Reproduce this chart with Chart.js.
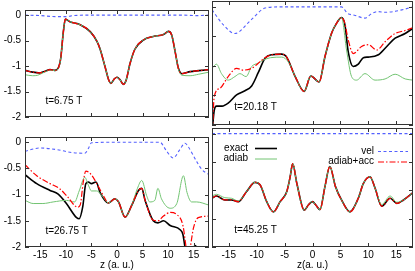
<!DOCTYPE html>
<html>
<head>
<meta charset="utf-8">
<script src="https://cdn.jsdelivr.net/npm/chart.js@4.4.0/dist/chart.umd.min.js"></script>
<style>
  body { margin: 0; background: #fff; }
  #wrap { position: relative; width: 415px; height: 271px; overflow: hidden; }
  #wrap canvas { position: absolute; }
</style>
</head>
<body>
<div id="wrap">
  <canvas id="p1" width="212" height="127" style="left:0;top:0"></canvas>
  <canvas id="p2" width="205" height="127" style="left:210px;top:0"></canvas>
  <canvas id="p3" width="212" height="144" style="left:0;top:127px"></canvas>
  <canvas id="p4" width="205" height="144" style="left:210px;top:127px"></canvas>
</div>
<script>
// ---- data ----
const zTicks = [-15, -10, -5, 0, 5, 10, 15];
const vTicks = [0, -0.5, -1, -1.5, -2];
const seriesNames = ['exact', 'adiab', 'vel', 'adiab+acc'];
const timeLabels = ['t=6.75 T', 't=20.18 T', 't=26.75 T', 't=45.25 T'];
const axisTitles = ['z (a. u.)', 'z(a. u.)'];

// panel 1, t=6.75 T
const p1ExactZ = [-18, -16.5, -15.1, -14, -13.1, -12.2, -11.5, -11, -10.5, -10.1, -9.2, -7.2, -5.2, -3.9, -3.3, -2.35, -1.6, -1.2, -0.5, 0, 0.6, 1.24, 1.75, 2.55, 3.5, 5.15, 7.1, 9.1, 10.06, 10.7, 11.4, 12, 12.7, 14.3, 16, 18];
const p1ExactV = [-1.085, -1.12, -1.135, -1.1, -1.07, -1.085, -1.04, -0.84, -0.33, -0.08, -0.13, -0.19, -0.33, -0.52, -0.67, -1.01, -1.28, -1.34, -1.25, -1.22, -1.27, -1.36, -1.29, -0.95, -0.67, -0.49, -0.42, -0.38, -0.32, -0.39, -0.73, -1.04, -1.15, -1.11, -1.09, -1.07];
const p1AdiabZ = [-18, -16.5, -15.5, -14.2, -13.1, -12.2, -11.5, -11, -10.5, -10.1, -9.2, -7.2, -5.2, -3.9, -3.3, -2.35, -1.6, -1.2, -0.5, 0, 0.6, 1.24, 1.75, 2.55, 3.5, 5.15, 7.1, 9.1, 10.06, 10.7, 11.4, 12, 12.7, 14.3, 16, 18];
const p1AdiabV = [-1.17, -1.19, -1.18, -1.12, -1.08, -1.09, -1.05, -0.84, -0.33, -0.08, -0.13, -0.19, -0.33, -0.52, -0.67, -1.01, -1.28, -1.34, -1.25, -1.22, -1.27, -1.36, -1.29, -0.95, -0.67, -0.49, -0.42, -0.38, -0.32, -0.39, -0.73, -1.05, -1.18, -1.19, -1.16, -1.12];
const p1VelZ = [-18, -15, -12, -10, -8.5, -5, 0, 5, 10, 13, 15.5, 18];
const p1VelV = [0, -0.01, -0.03, -0.03, -0.01, 0, 0, 0, 0, 0, -0.01, 0];
const p1AccZ = p1ExactZ;
const p1AccV = p1ExactV;

// panel 2, t=20.18 T
const p2ExactZ = [-18, -17.6, -17.2, -16.2, -15.1, -13.6, -12.1, -10.9, -9.7, -8.5, -7.3, -5.5, -4.7, -3.1, -1.5, -0.3, 1.2, 2.24, 3.4, 4.3, 5.2, 5.8, 6.4, 7.3, 8.2, 9.1, 10, 11.8, 13.3, 14.8, 16.6, 18];
const p2ExactV = [-2.15, -1.75, -1.68, -1.68, -1.63, -1.49, -1.42, -1.34, -1.11, -0.87, -0.81, -0.8, -0.84, -1.18, -1.43, -1.17, -1.27, -0.84, -0.45, -0.28, -0.18, -0.3, -0.76, -1.01, -0.97, -0.86, -0.85, -0.81, -0.67, -0.53, -0.45, -0.36];
const p2AdiabZ = [-18, -17.2, -16.3, -15.1, -13.9, -13, -11.9, -10.9, -9.7, -8.8, -7.5, -5.5, -4.2, -3.1, -1.5, -0.3, 1.2, 2.24, 3.4, 4.3, 5.2, 6.1, 7, 7.9, 9.4, 11.2, 13, 14.8, 16.6, 18];
const p2AdiabV = [-1.04, -0.97, -1.13, -1.24, -1.18, -1.13, -1.18, -1.01, -0.95, -0.9, -0.86, -0.85, -0.95, -1.18, -1.43, -1.17, -1.27, -0.84, -0.45, -0.28, -0.18, -0.73, -1.18, -1.24, -1.13, -1.24, -1.22, -1.14, -1.22, -1.24];
const p2VelZ = [-18, -16, -13.9, -11, -8.5, -6, 0, 5.2, 6.3, 7.5, 9.4, 10.5, 11.7, 13, 14.5, 16, 18];
const p2VelV = [-0.05, -0.3, -0.45, -0.22, -0.02, 0, 0, 0, -0.11, -0.14, -0.19, -0.12, -0.08, -0.09, -0.08, -0.05, 0];
const p2AccZ = [-18, -17.6, -16.6, -15.1, -13.6, -12.4, -10.9, -9.4, -8.5, -7.3, -5.5, -4.7, -3.1, -1.5, -0.3, 1.2, 2.24, 3.4, 4.3, 5.2, 5.8, 6.4, 7.3, 8.8, 10, 11.5, 13, 14.8, 16.6, 18];
const p2AccV = [-2.3, -1.52, -1.38, -1.18, -1.04, -1.07, -1.04, -0.93, -0.86, -0.81, -0.8, -0.84, -1.18, -1.43, -1.17, -1.27, -0.84, -0.45, -0.28, -0.18, -0.28, -0.56, -0.79, -0.67, -0.64, -0.73, -0.59, -0.45, -0.4, -0.35];

// panel 3, t=26.75 T
const p3ExactZ = [-18, -15.7, -13.1, -11.5, -9.9, -7.9, -7.4, -6.7, -6.1, -5.6, -5, -4.1, -3.3, -1.7, -0.4, 0.3, 1.57, 2.9, 4.2, 4.84, 5.5, 7.1, 8, 9.1, 10.4, 12.35, 12.9, 13.3, 14, 14.8, 15.3, 15.8, 18];
const p3ExactV = [-0.62, -0.79, -0.92, -0.99, -1.17, -1.44, -1.46, -1.23, -0.79, -0.76, -0.79, -0.76, -0.96, -1.16, -1.08, -1.14, -1.43, -1.2, -0.92, -0.88, -1.11, -1.5, -1.54, -1.5, -1.59, -1.67, -1.76, -2, -2.3, -2.05, -1.97, -2.05, -2.4];
const p3AdiabZ = [-18, -16.4, -14.5, -12.5, -9.9, -8.3, -7.4, -6.3, -5.6, -5, -4, -2.7, -1.7, -0.4, 0.3, 1.57, 2.9, 4, 4.84, 5.8, 6.4, 7.4, 8, 8.7, 10.4, 11.7, 13, 13.7, 14.6, 15.6, 18];
const p3AdiabV = [-1.11, -1.17, -1.17, -1.14, -1.11, -1.14, -0.93, -0.67, -0.82, -0.93, -0.93, -1.05, -1.16, -1.08, -1.14, -1.43, -1.2, -0.88, -0.73, -1.02, -1.14, -1.11, -0.88, -1.08, -1.26, -1.17, -0.64, -0.96, -1.14, -1.14, -1.2];
const p3VelZ = [-18, -15.1, -11.8, -8.6, -6.3, -5.5, -5, 0, 8.4, 9.7, 11, 12.3, 13.3, 13.9, 15.6, 16.6, 18];
const p3VelV = [-0.17, -0.11, -0.14, -0.2, -0.21, -0.1, -0.01, 0, 0, -0.17, -0.3, -0.14, -0.02, -0.08, -0.37, -0.52, -0.62];
const p3AccZ = [-18, -15.7, -13.1, -11.3, -9.6, -7.7, -7.2, -6.6, -6.1, -5.3, -4.3, -3.3, -2.5, -1.7, -0.4, 0.3, 1.57, 2.9, 4.2, 4.84, 5.5, 7.1, 8, 9.1, 10.4, 11.7, 12.9, 13.6, 14, 14.4, 14.95, 15.9, 18];
const p3AccV = [-0.43, -0.64, -0.79, -0.88, -1.05, -1.24, -1.2, -0.76, -0.55, -0.59, -0.73, -0.91, -1.05, -1.16, -1.08, -1.14, -1.43, -1.2, -0.92, -0.88, -1.11, -1.49, -1.5, -1.41, -1.34, -1.38, -1.59, -2.05, -2.2, -1.97, -1.64, -1.44, -1.41];

// panel 4, t=45.25 T
const p4ExactZ = [-18, -17.2, -15.7, -14.5, -13.3, -11.8, -10.3, -9.4, -8.2, -7, -5.8, -4.6, -4, -3.55, -2.8, -1.47, -0.75, 0, 0.6, 1.34, 2.24, 3.1, 4.1, 5.2, 6.7, 8.2, 9.1, 10.3, 11.2, 12.4, 13.9, 15.1, 16.3, 18];
const p4ExactV = [-1.14, -1.1, -1.17, -1.17, -1.2, -1.02, -0.86, -0.9, -1.2, -1.38, -1.2, -1.02, -0.76, -0.53, -0.88, -1.35, -1.26, -1.2, -1.26, -1.34, -0.93, -0.58, -0.93, -1.17, -1.38, -1.14, -0.88, -0.76, -0.96, -1.28, -1.14, -1.23, -1.17, -1.04];
const p4AdiabZ = p4ExactZ;
const p4AdiabV = [-1.1, -1.07, -1.13, -1.14, -1.19, -1.02, -0.86, -0.9, -1.2, -1.38, -1.2, -1.02, -0.76, -0.53, -0.88, -1.35, -1.26, -1.2, -1.26, -1.34, -0.93, -0.58, -0.93, -1.17, -1.38, -1.14, -0.88, -0.76, -0.96, -1.25, -1.1, -1.21, -1.17, -1.04];
const p4VelZ = [-18, 0, 18];
const p4VelV = [0, 0, 0];
const p4AccZ = p4ExactZ;
const p4AccV = p4ExactV;

// ---- look ----
Chart.defaults.font.family = '"Liberation Sans", Arial, sans-serif';
Chart.defaults.font.size = 10;
Chart.defaults.color = '#000';

const styles = {
  'exact':     { borderColor: '#000000', borderWidth: 1.6, borderDash: [] },
  'adiab':     { borderColor: '#72c472', borderWidth: 1, borderDash: [] },
  'vel':       { borderColor: '#5460ff', borderWidth: 1.1, borderDash: [3, 2.5] },
  'adiab+acc': { borderColor: '#ff0000', borderWidth: 1.2, borderDash: [6, 2, 1.5, 2] }
};

function pts(z, v) {
  return z.map((x, i) => ({ x: x, y: v[i] }));
}

const panels = [
  { exact: pts(p1ExactZ, p1ExactV), adiab: pts(p1AdiabZ, p1AdiabV), vel: pts(p1VelZ, p1VelV), 'adiab+acc': pts(p1AccZ, p1AccV) },
  { exact: pts(p2ExactZ, p2ExactV), adiab: pts(p2AdiabZ, p2AdiabV), vel: pts(p2VelZ, p2VelV), 'adiab+acc': pts(p2AccZ, p2AccV) },
  { exact: pts(p3ExactZ, p3ExactV), adiab: pts(p3AdiabZ, p3AdiabV), vel: pts(p3VelZ, p3VelV), 'adiab+acc': pts(p3AccZ, p3AccV) },
  { exact: pts(p4ExactZ, p4ExactV), adiab: pts(p4AdiabZ, p4AdiabV), vel: pts(p4VelZ, p4VelV), 'adiab+acc': pts(p4AccZ, p4AccV) }
];

// gnuplot-like frame with inward ticks on all four sides
const framePlugin = {
  id: 'frame',
  afterDraw(chart) {
    const { ctx, chartArea: a, scales } = chart;
    const x = scales.x, y = scales.y;
    ctx.save();
    ctx.strokeStyle = '#333';
    ctx.lineWidth = 1;
    ctx.beginPath();
    x.ticks.forEach(t => {
      const px = Math.round(x.getPixelForValue(t.value)) + 0.5;
      ctx.moveTo(px, a.bottom); ctx.lineTo(px, a.bottom - 4);
      ctx.moveTo(px, a.top); ctx.lineTo(px, a.top + 4);
    });
    y.ticks.forEach(t => {
      const py = Math.round(y.getPixelForValue(t.value)) + 0.5;
      ctx.moveTo(a.left, py); ctx.lineTo(a.left + 4, py);
      ctx.moveTo(a.right, py); ctx.lineTo(a.right - 4, py);
    });
    ctx.stroke();
    ctx.strokeRect(a.left + 0.5, a.top + 0.5, a.right - a.left - 1, a.bottom - a.top - 1);
    ctx.restore();
  }
};

// "t=... T" label placed in data coordinates
const timePlugin = {
  id: 'timeLabel',
  afterDatasetsDraw(chart, args, opts) {
    const { ctx, scales } = chart;
    ctx.save();
    ctx.font = '10px "Liberation Sans", Arial, sans-serif';
    ctx.fillStyle = '#000';
    ctx.textAlign = 'left';
    ctx.textBaseline = 'middle';
    ctx.fillText(opts.text, scales.x.getPixelForValue(-14), scales.y.getPixelForValue(-1.7));
    ctx.restore();
  }
};

// key in the last panel: two little columns like gnuplot
const keyPlugin = {
  id: 'key',
  afterDatasetsDraw(chart, args, opts) {
    if (!opts.show) return;
    const { ctx, chartArea: a } = chart;
    const spots = [
      { name: 'exact', tx: 36, y: 20, l0: 43, l1: 65 },
      { name: 'adiab', tx: 36, y: 30.5, l0: 43, l1: 65 },
      { name: 'vel', tx: 162, y: 23, l0: 166, l1: 196 },
      { name: 'adiab+acc', tx: 162, y: 33.5, l0: 166, l1: 196 }
    ];
    ctx.save();
    ctx.font = '10px "Liberation Sans", Arial, sans-serif';
    ctx.textAlign = 'right';
    ctx.textBaseline = 'middle';
    spots.forEach(s => {
      const ds = chart.data.datasets.find(d => d.label === s.name);
      ctx.fillStyle = '#000';
      ctx.fillText(ds.label, a.left + s.tx, a.top + s.y);
      ctx.strokeStyle = ds.borderColor;
      ctx.lineWidth = ds.borderWidth;
      ctx.setLineDash(ds.borderDash);
      ctx.beginPath();
      ctx.moveTo(a.left + s.l0, a.top + s.y + 0.5);
      ctx.lineTo(a.left + s.l1, a.top + s.y + 0.5);
      ctx.stroke();
    });
    ctx.restore();
  }
};

function makePanel(idx, showX, showY, padding) {
  const p = panels[idx];
  // drawn order: exact first, adiab+acc last (on top)
  const order = ['adiab+acc', 'vel', 'adiab', 'exact'];
  const datasets = order.map(name => Object.assign({
    label: name,
    data: p[name],
    fill: false,
    pointRadius: 0,
    cubicInterpolationMode: 'monotone'
  }, styles[name]));

  new Chart(document.getElementById('p' + (idx + 1)), {
    type: 'line',
    data: { datasets: datasets },
    options: {
      responsive: false,
      animation: false,
      devicePixelRatio: 1,
      layout: { padding: padding },
      plugins: {
        legend: { display: false },
        tooltip: { enabled: false },
        timeLabel: { text: timeLabels[idx] },
        key: { show: idx === 3 }
      },
      scales: {
        x: {
          type: 'linear',
          min: -18,
          max: 18,
          afterBuildTicks: s => { s.ticks = zTicks.map(v => ({ value: v })); },
          afterFit: s => { s.height = showX ? 24 : 0; },
          grid: { display: false, drawTicks: false },
          border: { display: false },
          ticks: { display: showX, padding: 2, autoSkip: false, maxRotation: 0, font: { size: 10 }, callback: v => String(v) },
          title: { display: showX, text: axisTitles[idx === 3 ? 1 : 0], padding: { top: 0, bottom: 0 }, font: { size: 10 } }
        },
        y: {
          type: 'linear',
          min: -2,
          max: 0.1,
          afterBuildTicks: s => { s.ticks = vTicks.map(v => ({ value: v })); },
          afterFit: s => { s.width = showY ? 25 : 0; },
          grid: { display: false, drawTicks: false },
          border: { display: false },
          ticks: { display: showY, padding: 4, font: { size: 10 }, callback: v => String(v) }
        }
      }
    },
    plugins: [framePlugin, timePlugin, keyPlugin]
  });
}

makePanel(0, false, true, { left: 0, right: 3, top: 1, bottom: 2 });
makePanel(1, false, false, { left: 2, right: 2, top: 1, bottom: 2 });
makePanel(2, true, true, { left: 0, right: 3, top: 1, bottom: 0 });
makePanel(3, true, false, { left: 2, right: 2, top: 1, bottom: 0 });
</script>
</body>
</html>
